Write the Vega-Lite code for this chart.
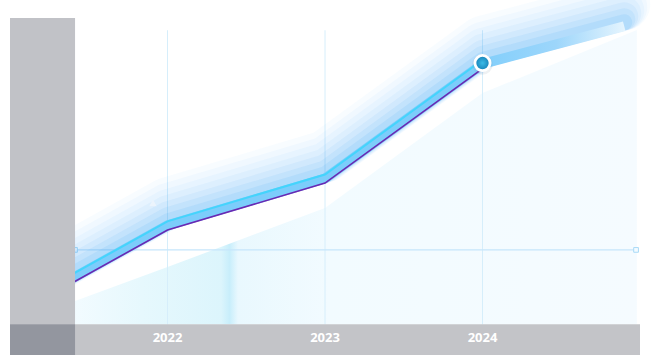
{
  "$schema": "https://vega.github.io/schema/vega-lite/v6.json",
  "width": 630,
  "height": 337,
  "autosize": {"type": "none"},
  "padding": {"left": 10, "top": 18, "right": 17, "bottom": 1},
  "background": "white",
  "config": {
    "view": {"stroke": null}
  },
  "datasets": {
    "series": [
      {"year": 2021.3, "value": 12.3},
      {"year": 2022, "value": 32.3},
      {"year": 2023, "value": 47.6},
      {"year": 2024, "value": 85.0},
      {"year": 2024.9, "value": 97.3}
    ],
    "shade": [
      {"year": 2021.413, "value": 7.6},
      {"year": 2022, "value": 18.7},
      {"year": 2023, "value": 38.0},
      {"year": 2024, "value": 75.5},
      {"year": 2024.98, "value": 96.1}
    ],
    "years": [
      {"year": 2022},
      {"year": 2023},
      {"year": 2024}
    ],
    "ruleEnds": [
      {"year": 2021.413, "value": 24.3},
      {"year": 2024.975, "value": 24.3}
    ],
    "highlight": [
      {"year": 2024, "value": 85.3}
    ],
    "marker": [
      {"year": 2021.908, "value": 39.6}
    ]
  },
  "layer": [
    {
      "data": {"name": "shade"},
      "mark": {
        "type": "area",
        "color": {
          "gradient": "linear",
          "x1": 0, "y1": 0, "x2": 1, "y2": 0,
          "stops": [
            {"offset": 0, "color": "#f2fbff"},
            {"offset": 0.12, "color": "#e6f8fd"},
            {"offset": 0.26, "color": "#dcf5fc"},
            {"offset": 0.275, "color": "#c8eefb"},
            {"offset": 0.29, "color": "#e9f8fe"},
            {"offset": 0.45, "color": "#f2fbff"},
            {"offset": 1, "color": "#f5fbff"}
          ]
        }
      },
      "encoding": {
        "x": {"field": "year", "type": "quantitative", "scale": {"domain": [2021, 2025], "nice": false, "zero": false}, "axis": null},
        "y": {"field": "value", "type": "quantitative", "scale": {"domain": [-10, 100], "nice": false, "zero": false}, "axis": null},
        "y2": {"datum": 0}
      }
    },
    {
      "data": {"name": "years"},
      "mark": {"type": "rule", "color": "#d6eefb", "strokeWidth": 1},
      "encoding": {
        "x": {"field": "year", "type": "quantitative", "scale": {"domain": [2021, 2025], "nice": false, "zero": false}, "axis": null},
        "y": {"datum": 96, "type": "quantitative", "scale": {"domain": [-10, 100], "nice": false, "zero": false}, "axis": null},
        "y2": {"datum": 0}
      }
    },
    {
      "data": {"name": "ruleEnds"},
      "mark": {"type": "line", "color": "#c6e6fb", "strokeWidth": 1.2},
      "encoding": {
        "x": {"field": "year", "type": "quantitative", "scale": {"domain": [2021, 2025], "nice": false, "zero": false}, "axis": null},
        "y": {"field": "value", "type": "quantitative", "scale": {"domain": [-10, 100], "nice": false, "zero": false}, "axis": null}
      }
    },
    {
      "data": {"name": "ruleEnds"},
      "mark": {"type": "point", "shape": "square", "size": 22, "filled": true, "fill": "#f4fbff", "stroke": "#a9daf7", "strokeWidth": 1, "opacity": 1},
      "encoding": {
        "x": {"field": "year", "type": "quantitative", "scale": {"domain": [2021, 2025], "nice": false, "zero": false}, "axis": null},
        "y": {"field": "value", "type": "quantitative", "scale": {"domain": [-10, 100], "nice": false, "zero": false}, "axis": null}
      }
    },
    {
      "data": {"name": "series"},
      "layer": [
        {"mark": {"type": "line", "color": "#36a2f4", "strokeWidth": 52, "opacity": 0.035, "yOffset": -22, "strokeJoin": "round", "strokeCap": "round"}},
        {"mark": {"type": "line", "color": "#36a2f4", "strokeWidth": 46, "opacity": 0.04, "yOffset": -19, "strokeJoin": "round", "strokeCap": "round"}},
        {"mark": {"type": "line", "color": "#36a2f4", "strokeWidth": 40, "opacity": 0.045, "yOffset": -16, "strokeJoin": "round", "strokeCap": "round"}},
        {"mark": {"type": "line", "color": "#36a2f4", "strokeWidth": 34, "opacity": 0.055, "yOffset": -13, "strokeJoin": "round", "strokeCap": "round"}},
        {"mark": {"type": "line", "color": "#36a2f4", "strokeWidth": 28, "opacity": 0.07, "yOffset": -10, "strokeJoin": "round", "strokeCap": "round"}},
        {"mark": {"type": "line", "color": "#36a2f4", "strokeWidth": 22, "opacity": 0.09, "yOffset": -7, "strokeJoin": "round", "strokeCap": "round"}},
        {"mark": {"type": "line", "color": "#36a2f4", "strokeWidth": 16, "opacity": 0.11, "yOffset": -4, "strokeJoin": "round", "strokeCap": "round"}},
        {
          "mark": {
            "type": "line",
            "strokeWidth": 10,
            "strokeJoin": "round",
            "color": {
              "gradient": "linear",
              "x1": 0, "y1": 0, "x2": 1, "y2": 0,
              "stops": [
                {"offset": 0, "color": "#7ccdfb"},
                {"offset": 0.72, "color": "#7ccdfb"},
                {"offset": 0.88, "color": "#9dd6fb"},
                {"offset": 1, "color": "#e4f4fe"}
              ]
            }
          }
        },
        {
          "transform": [{"filter": "datum.year <= 2024"}],
          "mark": {"type": "line", "color": "#44d4fc", "strokeWidth": 2, "yOffset": -4}
        },
        {
          "transform": [{"filter": "datum.year <= 2024"}],
          "mark": {"type": "line", "color": "#6a28b2", "strokeWidth": 1.6, "yOffset": 4.6}
        }
      ],
      "encoding": {
        "x": {"field": "year", "type": "quantitative", "scale": {"domain": [2021, 2025], "nice": false, "zero": false}, "axis": null},
        "y": {"field": "value", "type": "quantitative", "scale": {"domain": [-10, 100], "nice": false, "zero": false}, "axis": null}
      }
    },
    {
      "data": {"name": "marker"},
      "mark": {"type": "point", "shape": "triangle-up", "size": 55, "filled": true, "color": "#eef4fb", "opacity": 0.85},
      "encoding": {
        "x": {"field": "year", "type": "quantitative", "scale": {"domain": [2021, 2025], "nice": false, "zero": false}, "axis": null},
        "y": {"field": "value", "type": "quantitative", "scale": {"domain": [-10, 100], "nice": false, "zero": false}, "axis": null}
      }
    },
    {
      "data": {"name": "highlight"},
      "layer": [
        {"mark": {"type": "point", "shape": "circle", "size": 420, "filled": true, "color": "#7a8a99", "opacity": 0.12, "yOffset": 1.5}},
        {
          "mark": {
            "type": "point",
            "shape": "circle",
            "size": 230,
            "filled": true,
            "opacity": 1,
            "fill": {
              "gradient": "radial",
              "stops": [
                {"offset": 0, "color": "#3cbbe6"},
                {"offset": 1, "color": "#147fb6"}
              ]
            },
            "stroke": "#ffffff",
            "strokeWidth": 2.8
          }
        }
      ],
      "encoding": {
        "x": {"field": "year", "type": "quantitative", "scale": {"domain": [2021, 2025], "nice": false, "zero": false}, "axis": null},
        "y": {"field": "value", "type": "quantitative", "scale": {"domain": [-10, 100], "nice": false, "zero": false}, "axis": null}
      }
    },
    {
      "data": {"values": [{}]},
      "mark": {"type": "rect", "color": "#c1c2c7"},
      "encoding": {
        "x": {"datum": 2021, "type": "quantitative", "scale": {"domain": [2021, 2025], "nice": false, "zero": false}, "axis": null},
        "x2": {"datum": 2021.413},
        "y": {"datum": 100, "type": "quantitative", "scale": {"domain": [-10, 100], "nice": false, "zero": false}, "axis": null},
        "y2": {"datum": 0}
      }
    },
    {
      "data": {"values": [{}]},
      "mark": {"type": "rect", "color": "#c3c4c8"},
      "encoding": {
        "x": {"datum": 2021, "type": "quantitative", "scale": {"domain": [2021, 2025], "nice": false, "zero": false}, "axis": null},
        "x2": {"datum": 2025},
        "y": {"datum": 0, "type": "quantitative", "scale": {"domain": [-10, 100], "nice": false, "zero": false}, "axis": null},
        "y2": {"datum": -10}
      }
    },
    {
      "data": {"values": [{}]},
      "mark": {"type": "rect", "color": "#93969f"},
      "encoding": {
        "x": {"datum": 2021, "type": "quantitative", "scale": {"domain": [2021, 2025], "nice": false, "zero": false}, "axis": null},
        "x2": {"datum": 2021.413},
        "y": {"datum": 0, "type": "quantitative", "scale": {"domain": [-10, 100], "nice": false, "zero": false}, "axis": null},
        "y2": {"datum": -10}
      }
    },
    {
      "data": {"name": "years"},
      "mark": {"type": "text", "font": "Open Sans", "fontSize": 13, "fontWeight": "bold", "color": "#ffffff", "baseline": "middle", "align": "center", "yOffset": -1.5},
      "encoding": {
        "x": {"field": "year", "type": "quantitative", "scale": {"domain": [2021, 2025], "nice": false, "zero": false}, "axis": null},
        "y": {"datum": -5, "type": "quantitative", "scale": {"domain": [-10, 100], "nice": false, "zero": false}, "axis": null},
        "text": {"field": "year", "type": "quantitative", "format": "d"}
      }
    }
  ]
}
